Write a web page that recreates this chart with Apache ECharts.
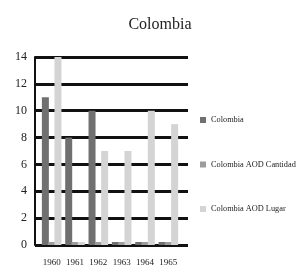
<!DOCTYPE html>
<html>
<head>
<meta charset="utf-8">
<script src="https://cdn.jsdelivr.net/npm/echarts@6/dist/echarts.min.js"></script>
<style>
  html, body { margin: 0; padding: 0; background: #fff; }
  #chart { width: 298px; height: 269px; }
</style>
</head>
<body>
<div id="chart"></div>
<script>
const years = ["1960", "1961", "1962", "1963", "1964", "1965"];
const colombia = [11, 8, 10, 0, 0, 0];
const aodCantidad = [0, 0, 0, 0, 0, 0];
const aodLugar = [14, 0, 7, 7, 10, 9];
const yTicks = [0, 14, 2]; // min, max, step

const serif = "'Liberation Serif', serif";

const makeBar = (name, data, color) => ({
  name: name,
  type: "bar",
  xAxisIndex: 1,
  yAxisIndex: 1,
  data: data,
  barWidth: 7,
  barGap: "-10%",
  barMinHeight: 3,
  itemStyle: { color: color },
});

const renderChart = () => {
  var myChart = echarts.init(document.getElementById("chart"), null, { renderer: "canvas" });
  var option = {
    animation: false,
    title: {
      text: "Colombia",
      left: 155,
      top: 12,
      textAlign: "center",
      textStyle: { fontFamily: serif, fontWeight: "normal", fontSize: 16, color: "#222" },
    },
    legend: {
      orient: "vertical",
      left: 200,
      top: 116,
      padding: 0,
      itemWidth: 6,
      itemHeight: 6,
      itemGap: 36.5,
      icon: "rect",
      textStyle: { fontFamily: serif, fontSize: 8.3, color: "#222" },
      data: ["Colombia", "Colombia AOD Cantidad", "Colombia AOD Lugar"],
    },
    grid: [
      { left: 35, right: 110, top: 57, bottom: 24 },
      { left: 40, right: 118, top: 57, bottom: 24 },
    ],
    xAxis: [
      { gridIndex: 0, type: "value", show: false },
      {
        gridIndex: 1,
        type: "category",
        data: years,
        axisTick: { show: false },
        axisLine: { show: false },
        axisLabel: { interval: 0, margin: 13, fontFamily: serif, fontSize: 9, color: "#222" },
      },
    ],
    yAxis: [
      {
        gridIndex: 0,
        type: "value",
        min: yTicks[0],
        max: yTicks[1],
        interval: yTicks[2],
        axisLine: { show: true, lineStyle: { color: "#111", width: 2 } },
        axisTick: { show: false },
        axisLabel: { margin: 8, fontFamily: serif, fontSize: 12, color: "#222" },
        splitLine: { show: true, lineStyle: { color: "#111", width: 3 } },
      },
      { gridIndex: 1, type: "value", min: yTicks[0], max: yTicks[1], show: false },
    ],
    series: [
      makeBar("Colombia", colombia, "#707070"),
      makeBar("Colombia AOD Cantidad", aodCantidad, "#9c9c9c"),
      makeBar("Colombia AOD Lugar", aodLugar, "#d4d4d4"),
    ],
  };
  myChart.setOption(option);
};

document.addEventListener("DOMContentLoaded", function () {
  renderChart();
});
</script>
</body>
</html>
